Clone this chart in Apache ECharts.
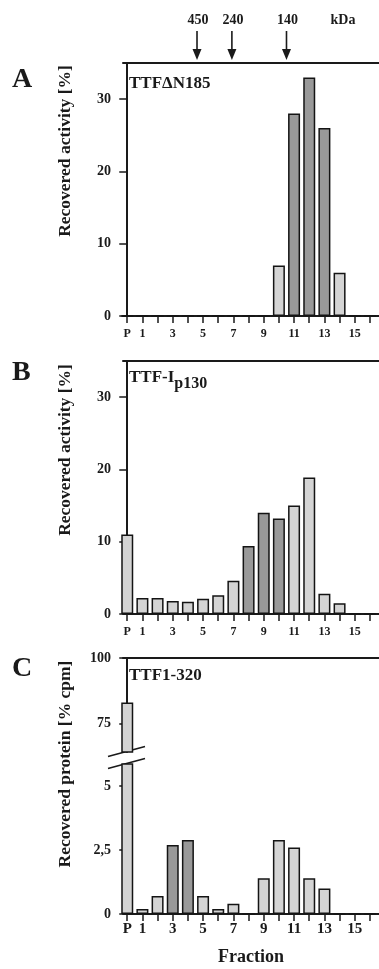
<!DOCTYPE html>
<html>
<head>
<meta charset="utf-8">
<script src="https://cdn.jsdelivr.net/npm/echarts@6/dist/echarts.min.js"></script>
<style>
html, body { margin: 0; padding: 0; background: #ffffff; }
#chart { width: 379px; height: 969px; }
</style>
</head>
<body>
<div id="chart"></div>
<script>
// fractions from the gel filtration column, P = pellet
const fractions = ['P', '1', '2', '3', '4', '5', '6', '7', '8', '9', '10', '11', '12', '13', '14', '15', '16'];
const fractionLabels = ['P', '1', '3', '5', '7', '9', '11', '13', '15'];

const activityA = [0, 0, 0, 0, 0, 0, 0, 0, 0, 0, 7, 28, 33, 26, 6, 0, 0];
const activityB = [11, 2.2, 2.2, 1.8, 1.7, 2.1, 2.6, 4.6, 9.4, 14, 13.2, 15, 18.9, 2.8, 1.5, 0, 0];
const proteinC = [83, 0.2, 0.7, 2.7, 2.9, 0.7, 0.2, 0.4, 0, 1.4, 2.9, 2.6, 1.4, 1.0, 0, 0, 0];

const activityTicks = [0, 10, 20, 30];
const proteinLowTicks = [0, 2.5, 5];
const proteinHighTicks = [75, 100];

// size markers (kDa) and the fraction they elute in
const markerKDa = ['450', '240', '140'];
const markerFraction = [4.6, 6.9, 10.5];

// bars drawn darker in the scan
const darkA = [11, 12, 13];
const darkB = [8, 9, 10];
const darkC = [3, 4];

const FONT = "'Liberation Serif', 'DejaVu Serif', serif";
const INK = '#1a1a1a';
const breakLow = 5.87;
const breakHigh = 64;

const chart = echarts.init(document.getElementById('chart'), null, { renderer: 'canvas' });

const xIdx = fractions.map((f, i) => i);
const xLabelValues = fractionLabels.map(f => fractions.indexOf(f));

const grids = [
  { left: 123, top: 63, width: 259, height: 253 },
  { left: 123, top: 361, width: 259, height: 253 },
  { left: 123, top: 658, width: 259, height: 94 },
  { left: 123, top: 764, width: 259, height: 150 },
];

const xBase = (gridIndex, extra) => Object.assign({
  type: 'value',
  gridIndex: gridIndex,
  min: -0.28,
  max: 16.6,
  splitLine: { show: false },
  axisLine: { show: true, lineStyle: { color: INK, width: 2 } },
  axisTick: {
    show: true, inside: false, length: 7, customValues: xIdx,
    lineStyle: { color: INK, width: 1.5 },
  },
  axisLabel: {
    show: true, customValues: xLabelValues, margin: 12,
    fontFamily: FONT, fontWeight: 'bold', fontSize: 12, color: INK,
    formatter: v => fractions[v],
  },
}, extra);

const topLine = gridIndex => ({
  type: 'value', gridIndex: gridIndex, position: 'top', min: -0.28, max: 16.6,
  splitLine: { show: false },
  axisLine: { show: true, lineStyle: { color: INK, width: 2 } },
  axisTick: { show: false },
  axisLabel: { show: false },
});

const yBase = (gridIndex, min, max, ticks) => ({
  type: 'value',
  gridIndex: gridIndex,
  min: min,
  max: max,
  splitLine: { show: false },
  axisLine: { show: true, lineStyle: { color: INK, width: 2 } },
  axisTick: {
    show: true, inside: false, length: 8, customValues: ticks,
    lineStyle: { color: INK, width: 1.5 },
  },
  axisLabel: {
    show: true, customValues: ticks, margin: 12,
    fontFamily: FONT, fontWeight: 'bold', fontSize: 14, color: INK,
    formatter: v => String(v).replace('.', ','),
  },
});

const barSeries = (xAxisIndex, yAxisIndex, values, dark) => ({
  type: 'bar',
  xAxisIndex: xAxisIndex,
  yAxisIndex: yAxisIndex,
  barWidth: 12,
  clip: true,
  silent: true,
  data: values.map((v, i) => [i, v]),
  itemStyle: {
    color: p => (dark.includes(p.value[0]) ? '#999999' : '#d4d4d4'),
    borderColor: '#141414',
    borderWidth: 1.5,
  },
});

chart.setOption({
  animation: false,
  backgroundColor: '#ffffff',
  grid: grids,
  xAxis: [
    xBase(0),
    topLine(0),
    xBase(1),
    topLine(1),
    topLine(2),
    xBase(3, { axisLabel: {
      show: true, customValues: xLabelValues, margin: 8,
      fontFamily: FONT, fontWeight: 'bold', fontSize: 15, color: INK,
      formatter: v => fractions[v],
    } }),
  ],
  yAxis: [
    yBase(0, 0, 35, activityTicks),
    yBase(1, 0, 35, activityTicks),
    yBase(2, breakHigh, 100, proteinHighTicks),
    yBase(3, 0, breakLow, proteinLowTicks),
  ],
  series: [
    barSeries(0, 0, activityA, darkA),
    barSeries(2, 1, activityB, darkB),
    Object.assign(barSeries(4, 2, proteinC, darkC), {
      data: proteinC.map((v, i) => [i, v]).filter(d => d[1] > breakHigh),
    }),
    barSeries(5, 3, proteinC, darkC),
  ],
});

// annotations: panel letters, axis names, titles, size markers, axis break
const txt = (text, x, y, size, extra) => ({
  type: 'text', x: x, y: y, silent: true,
  style: Object.assign({
    text: text, fill: INK, font: 'bold ' + size + 'px ' + FONT,
    align: 'left', verticalAlign: 'middle',
  }, extra || {}),
});
const vtxt = (text, x, y) => ({
  type: 'text', x: x, y: y, rotation: Math.PI / 2, silent: true,
  style: {
    text: text, fill: INK, font: 'bold 17.5px ' + FONT,
    align: 'center', verticalAlign: 'middle',
  },
});

const measure = document.createElement('canvas').getContext('2d');
measure.font = 'bold 17px ' + FONT;
const ttfWidth = measure.measureText('TTF-I').width;

const graphics = [
  txt('A', 12, 80, 28),
  txt('B', 12, 373, 28),
  txt('C', 12, 669, 28),
  vtxt('Recovered activity [%]', 65, 151),
  vtxt('Recovered activity [%]', 65, 450),
  vtxt('Recovered protein [% cpm]', 65, 764),
  txt('TTF\u0394N185', 129, 84, 17),
  txt('TTF-I', 129, 378, 17),
  txt('p130', 129 + ttfWidth, 384, 16),
  txt('TTF1-320', 129, 676, 17),
  txt('Fraction', 251, 957, 18, { align: 'center' }),
  txt('kDa', 343, 20, 14, { align: 'center' }),
];

markerKDa.forEach((label, i) => {
  const px = chart.convertToPixel({ xAxisIndex: 0 }, markerFraction[i]);
  graphics.push(txt(label, px + 1, 20, 14, { align: 'center' }));
  graphics.push({
    type: 'line', silent: true,
    shape: { x1: px, y1: 31, x2: px, y2: 51 },
    style: { stroke: INK, lineWidth: 1.6 },
  });
  graphics.push({
    type: 'polygon', silent: true,
    shape: { points: [[px - 4.5, 49], [px + 4.5, 49], [px, 60]] },
    style: { fill: INK },
  });
});

const up = chart.convertToPixel({ xAxisIndex: 4, yAxisIndex: 2 }, [-0.28, breakHigh]);
const lo = chart.convertToPixel({ xAxisIndex: 5, yAxisIndex: 3 }, [-0.28, breakLow]);
[up, lo].forEach(p => {
  graphics.push({
    type: 'line', silent: true,
    shape: { x1: p[0] - 15, y1: p[1] + 4.5, x2: p[0] + 22, y2: p[1] - 5.5 },
    style: { stroke: INK, lineWidth: 1.6 },
  });
});

chart.setOption({ graphic: graphics });
window.addEventListener('resize', chart.resize);
</script>
</body>
</html>
